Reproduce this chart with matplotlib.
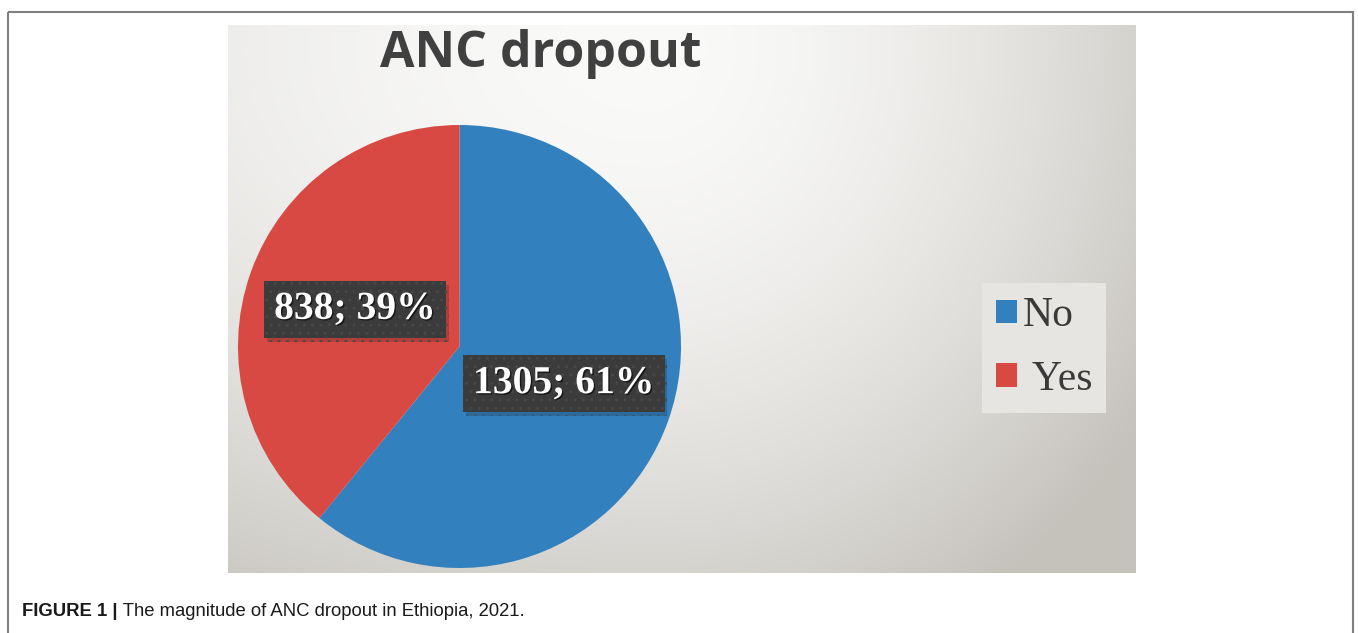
import numpy as np
import matplotlib
matplotlib.use('Agg')
import matplotlib.pyplot as plt
import matplotlib.patheffects as pe
from matplotlib.patches import Rectangle

W, H = 1358, 633

# data
categories = ['No', 'Yes']
legend_labels = ['No', ' Yes']
counts = [1305, 838]
colors = ['#3280bd', '#d84944']
title = 'ANC dropout'
caption_bold = 'FIGURE 1 |'
caption_text = ' The magnitude of ANC dropout in Ethiopia, 2021.'

fig = plt.figure(figsize=(W / 100, H / 100), dpi=100)
fig.patch.set_facecolor('white')


def px_axes(x0, y0, x1, y1):
    # axes from a pixel box, origin top-left
    return fig.add_axes([x0 / W, 1 - y1 / H, (x1 - x0) / W, (y1 - y0) / H])


base = px_axes(0, 0, W, H)
base.axis('off')

# chart background (light to grey gradient)
gx0, gy0, gx1, gy1 = 228, 25, 1136, 573
yy, xx = np.mgrid[gy0:gy1, gx0:gx1]
dx = xx - 650.0
dx = np.where(dx > 0, dx / 600, dx / 1000)
d = np.sqrt(dx ** 2 + ((yy - 50) / 650) ** 2)
t = np.clip(d, 0, 1) ** 1.7
light = np.array([250, 250, 249]) / 255
dark = np.array([197, 194, 188]) / 255
img = light * (1 - t[..., None]) + dark * t[..., None]
base.imshow(img, extent=(gx0, gx1, gy1, gy0), zorder=0, aspect='auto')
base.set_xlim(0, W)
base.set_ylim(H, 0)

# outer frame
base.add_patch(Rectangle((8, 12), 1345, 640, fill=False, ec='#808080',
                         lw=1.5, clip_on=False))

base.text(541, 67, title, ha='center', va='baseline', fontsize=36,
          fontweight='bold', family='Open Sans', color='#404040')

cap = base.text(22, 616, caption_bold, fontsize=13.3, fontweight='bold',
                family='Liberation Sans', color='#1a1a1a', va='baseline')
base.annotate(caption_text, xy=(1, 0), xycoords=cap, va='bottom', ha='left',
              fontsize=13.3, family='Liberation Sans', color='#1a1a1a')

# pie
cx, cy, r = 459.5, 346.5, 221.5
pax = px_axes(cx - r, cy - r, cx + r, cy + r)
wedges, _ = pax.pie(counts, colors=colors, startangle=90, counterclock=False,
                    radius=1, wedgeprops=dict(linewidth=0))
pax.set_xlim(-1, 1)
pax.set_ylim(-1, 1)

total = sum(counts)
for w, n in zip(wedges, counts):
    ang = np.deg2rad((w.theta1 + w.theta2) / 2)
    lbl = pax.text(0.5 * np.cos(ang), 0.5 * np.sin(ang),
                   f'{n}; {n / total * 100:.0f}%',
                   ha='center', va='center', color='white', fontsize=28.5,
                   fontweight='bold', family='Liberation Serif',
                   bbox=dict(boxstyle='square,pad=0.25', fc='#3b3b3b',
                             ec='#474747', lw=0, hatch='..'))
    lbl.get_bbox_patch().set_path_effects(
        [pe.SimplePatchShadow(offset=(2, -3), alpha=0.2), pe.Normal()])
    lbl.set_path_effects([pe.withSimplePatchShadow(offset=(1, -1),
                                                   shadow_rgbFace='black',
                                                   alpha=0.6)])

leg = base.legend(wedges, legend_labels, loc='upper left',
                  bbox_to_anchor=(982 / W, 1 - 283 / H),
                  bbox_transform=fig.transFigure,
                  prop=dict(family='Liberation Serif', size=30),
                  frameon=True, fancybox=False, facecolor='#e6e5e2',
                  edgecolor='none', framealpha=1, handlelength=0.5,
                  handleheight=0.5, handletextpad=0.15, borderpad=0.33,
                  labelspacing=0.6, borderaxespad=0)
leg.get_frame().set_linewidth(0)
for txt in leg.get_texts():
    txt.set_color('#3a3a3a')

fig.savefig('out.png', dpi=100, facecolor='white')
